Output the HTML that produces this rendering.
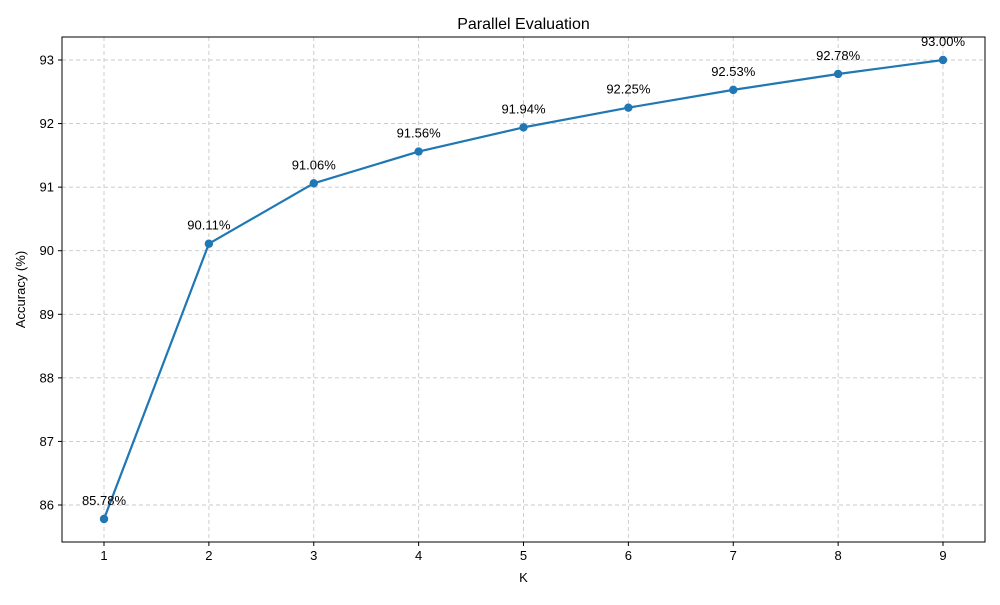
<!DOCTYPE html>
<html>
<head>
<meta charset="utf-8">
<style>
  html, body { margin: 0; padding: 0; background: #ffffff; }
  body { width: 1000px; height: 600px; overflow: hidden; font-family: "Liberation Sans", "DejaVu Sans", sans-serif; }
  svg text { font-family: "Liberation Sans", "DejaVu Sans", sans-serif; }
</style>
</head>
<body>
<svg id="chart" width="1000" height="600" viewBox="0 0 1000 600" xmlns="http://www.w3.org/2000/svg">
  <rect x="0" y="0" width="1000" height="600" fill="#ffffff"/>
  <g id="grid"></g>
  <g id="series"></g>
  <g id="labels"></g>
  <rect x="62" y="37" width="923" height="505" fill="none" stroke="#000" stroke-width="1"/>
  <g id="xticks"></g>
  <g id="yticks"></g>
  <text x="523.5" y="29" text-anchor="middle" font-size="16" fill="#000">Parallel Evaluation</text>
  <text x="523.5" y="582" text-anchor="middle" font-size="13" fill="#000">K</text>
  <text x="25" y="289.5" text-anchor="middle" font-size="13" fill="#000" transform="rotate(-90 25 289.5)">Accuracy (%)</text>
</svg>
<script>
const kValues = [1, 2, 3, 4, 5, 6, 7, 8, 9];
const accuracy = [85.78, 90.11, 91.06, 91.56, 91.94, 92.25, 92.53, 92.78, 93.00];
const xTickLabels = ["1", "2", "3", "4", "5", "6", "7", "8", "9"];
const yTickValues = [86, 87, 88, 89, 90, 91, 92, 93];

const NS = "http://www.w3.org/2000/svg";
const plot = { left: 62, right: 985, top: 37, bottom: 542 };
function xScale(v) { return 104 + (v - 1) * (943 - 104) / 8; }
function yScale(v) { return 505 - (v - 86) * (505 - 60) / 7; }
function mk(tag, attrs, parent) {
  const el = document.createElementNS(NS, tag);
  for (const k in attrs) el.setAttribute(k, attrs[k]);
  parent.appendChild(el);
  return el;
}
const grid = document.getElementById('grid');
const xt = document.getElementById('xticks');
const yt = document.getElementById('yticks');
const series = document.getElementById('series');
const labels = document.getElementById('labels');

kValues.forEach((k, i) => {
  const x = xScale(k);
  const g = mk('line', { x1: x, x2: x, y1: plot.top, y2: plot.bottom, stroke: '#c8c8c8', 'stroke-dasharray': '4,3', 'stroke-width': 0.9 }, grid);
  
  
  const t = mk('line', { x1: x, x2: x, y1: plot.bottom, y2: plot.bottom + 4, stroke: '#000' }, xt);
  
  
  const l = mk('text', { x: x, y: plot.bottom + 18, 'text-anchor': 'middle', 'font-size': 13, fill: '#000' }, xt);
  l.textContent = xTickLabels[i];
  
  
});
yTickValues.forEach(v => {
  const y = yScale(v);
  const g = mk('line', { x1: plot.left, x2: plot.right, y1: y, y2: y, stroke: '#c8c8c8', 'stroke-dasharray': '4,3', 'stroke-width': 0.9 }, grid);
  
  
  const t = mk('line', { x1: plot.left - 4, x2: plot.left, y1: y, y2: y, stroke: '#000' }, yt);
  
  
  const l = mk('text', { x: plot.left - 8, y: y + 4.5, 'text-anchor': 'end', 'font-size': 13, fill: '#000' }, yt);
  l.textContent = String(v);
  
  
});

const pts = kValues.map((k, i) => xScale(k) + ',' + yScale(accuracy[i])).join(' ');
const line = mk('polyline', { points: pts, fill: 'none', stroke: '#1f77b4', 'stroke-width': 2.2, 'stroke-linejoin': 'round' }, series);


kValues.forEach((k, i) => {
  const x = xScale(k), y = yScale(accuracy[i]);
  const c = mk('circle', { cx: x, cy: y, r: 4.2, fill: '#1f77b4' }, series);
  
  
  const t = mk('text', { x: x, y: y - 14, 'text-anchor': 'middle', 'font-size': 13, fill: '#000' }, labels);
  t.textContent = accuracy[i].toFixed(2) + '%';
  
  
});
</script>
</body>
</html>
